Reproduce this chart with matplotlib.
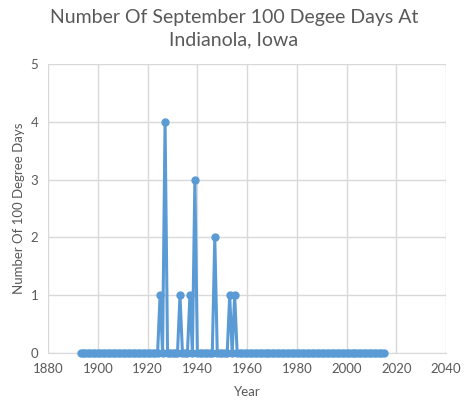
import matplotlib
matplotlib.use("Agg")
import matplotlib.pyplot as plt
import numpy as np

years = list(range(1893, 2016))
spike_years = [1925, 1927, 1933, 1937, 1939, 1947, 1953, 1955]
spike_values = [1, 4, 1, 1, 3, 2, 1, 1]
days = [spike_values[spike_years.index(y)] if y in spike_years else 0 for y in years]

title = "Number Of September 100 Degee Days At\nIndianola, Iowa"
xlabel = "Year"
ylabel = "Number Of 100 Degree Days"
xticks = list(range(1880, 2041, 20))
yticks = list(range(0, 6))

plt.rcParams['font.family'] = ['Lato', 'DejaVu Sans']
text_col = '#595959'
grid_col = '#d9d9d9'
line_col = '#5B9BD5'

fig = plt.figure(figsize=(4.68, 4.08), dpi=100)
ax = fig.add_axes([0.103, 0.135, 0.850, 0.708])
ax.plot(years, days, color=line_col, linewidth=2.2, marker='o', markersize=5,
        markerfacecolor=line_col, markeredgecolor=line_col, zorder=3, clip_on=False)
ax.set_xlim(1880, 2040)
ax.set_ylim(0, 5)
ax.set_xticks(xticks)
ax.set_yticks(yticks)
ax.grid(True, color=grid_col, linewidth=1)
ax.set_axisbelow(True)
for s in ['top', 'right', 'left']:
    ax.spines[s].set_visible(False)
ax.spines['bottom'].set_color(grid_col)
ax.tick_params(length=0, colors=text_col, labelsize=9.5, pad=7)
ax.set_xlabel(xlabel, color=text_col, fontsize=9.5, labelpad=8)
ax.set_ylabel(ylabel, color=text_col, fontsize=9.5, labelpad=4)
fig.suptitle(title, color=text_col, fontsize=14, y=0.978, linespacing=1.35)
fig.savefig("out.png", dpi=100, facecolor='white')
